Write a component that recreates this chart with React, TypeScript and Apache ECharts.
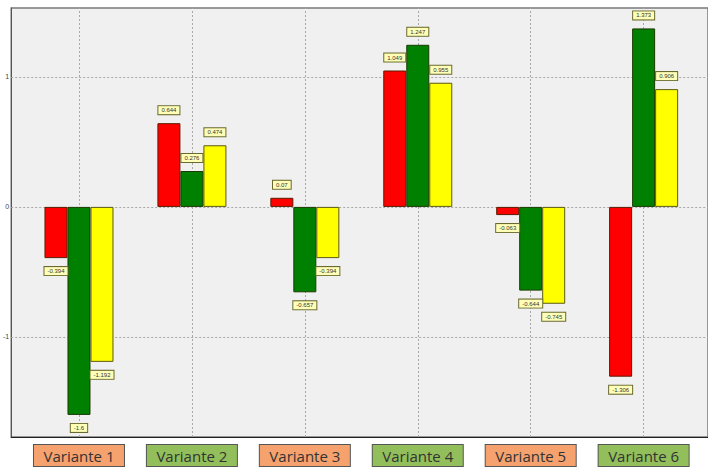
import React, { useEffect, useRef } from "react";
import * as echarts from "echarts";

const categories = ["Variante 1", "Variante 2", "Variante 3", "Variante 4", "Variante 5", "Variante 6"];
const redValues = [-0.394, 0.644, 0.07, 1.049, -0.063, -1.306];
const greenValues = [-1.6, 0.276, -0.657, 1.247, -0.644, 1.373];
const yellowValues = [-1.192, 0.474, -0.394, 0.955, -0.745, 0.906];
const yTicks = [-1, 0, 1];
const categoryPositions = [1, 2, 3, 4, 5, 6];

function makeData(values: number[]) {
  return values.map((v, i) => ({
    value: [categoryPositions[i], v],
    label: { position: v >= 0 ? "top" : "bottom" },
  }));
}

const labelStyle = {
  show: true,
  distance: 9,
  formatter: (p: any) => String(p.value[1]),
  fontSize: 6,
  color: "#333",
  fontFamily: "Liberation Sans",
  backgroundColor: "#ffffb8",
  borderColor: "#6a6a30",
  borderWidth: 1,
  padding: [1, 3, 1, 3],
};

export default function App() {
  const ref = useRef<HTMLDivElement>(null);
  useEffect(() => {
    if (!ref.current) return;
    const chart = echarts.init(ref.current, undefined, { renderer: "svg" });
    const barCommon = {
      type: "bar" as const,
      barWidth: 23,
      barGap: "0%",
      z: 3,
      label: labelStyle,
    };
    const richBox = (bg: string) => ({
      backgroundColor: bg,
      borderColor: "#555",
      borderWidth: 1,
      width: 80,
      align: "center",
      padding: [3, 5, 3, 5],
      fontSize: 15,
      lineHeight: 17,
      color: "#333",
      fontFamily: "Open Sans",
    });
    chart.setOption({
      animation: false,
      backgroundColor: "#ffffff",
      grid: {
        left: 8,
        right: -3,
        top: 8,
        bottom: 35,
        show: true,
        backgroundColor: "#f0f0f0",
        borderColor: "#7a7a7a",
        borderWidth: 1.5,
      },
      xAxis: {
        type: "value",
        min: 0.4,
        max: 6.57,
        splitLine: { show: false },
        axisLine: { show: true, onZero: false, lineStyle: { color: "#222", width: 1 } },
        axisTick: { show: false },
        axisLabel: {
          customValues: categoryPositions,
          margin: 10,
          formatter: (v: number) => {
            const i = Math.round(v) - 1;
            const key = i % 2 === 0 ? "o" : "g";
            return `{${key}|${categories[i]}}`;
          },
          rich: {
            o: richBox("#f5a26e"),
            g: richBox("#92bf5c"),
          },
        },
      },
      yAxis: {
        type: "value",
        min: -1.77,
        max: 1.53,
        splitLine: { show: false },
        axisLine: { show: true, lineStyle: { color: "#555" } },
        axisTick: { show: false },
        axisLabel: {
          customValues: yTicks,
          fontSize: 7,
          margin: 2,
          color: "#444",
          fontFamily: "Liberation Sans",
        },
      },
      series: [
        {
          type: "line",
          data: [],
          z: 1,
          silent: true,
          markLine: {
            z: 1,
            silent: true,
            symbol: "none",
            label: { show: false },
            lineStyle: { type: [2, 2], color: "#a8a8a8", width: 1 },
            data: [
              ...categoryPositions.map((x) => ({ xAxis: x })),
              ...yTicks.map((y) => ({ yAxis: y })),
            ],
          },
        },
        {
          ...barCommon,
          name: "red",
          itemStyle: { color: "#ff0000", borderColor: "#5a1a00", borderWidth: 1 },
          data: makeData(redValues),
        },
        {
          ...barCommon,
          name: "green",
          itemStyle: { color: "#008000", borderColor: "#1a3a00", borderWidth: 1 },
          data: makeData(greenValues),
        },
        {
          ...barCommon,
          name: "yellow",
          itemStyle: { color: "#ffff00", borderColor: "#5a5a10", borderWidth: 1 },
          data: makeData(yellowValues),
        },
      ],
    });
    return () => chart.dispose();
  }, []);
  return <div ref={ref} style={{ width: 708, height: 472, position: "absolute", left: 0, top: 0 }} />;
}
